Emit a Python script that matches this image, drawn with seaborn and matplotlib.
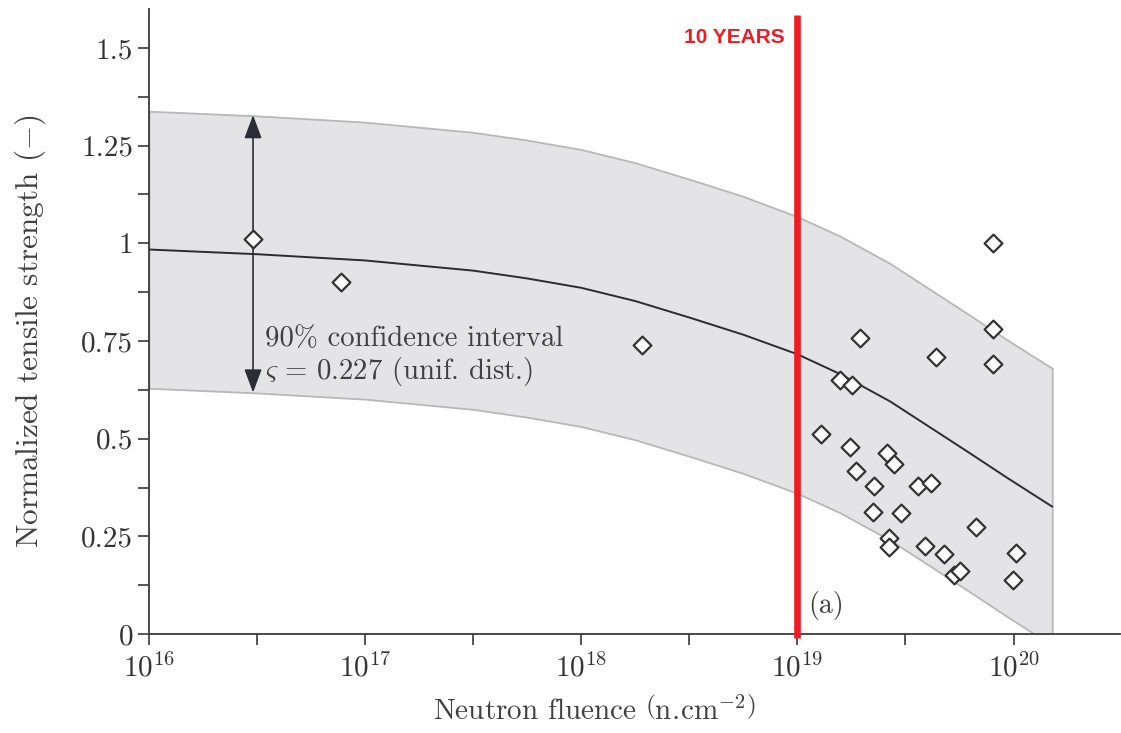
import numpy as np
import matplotlib
matplotlib.use("Agg")
import matplotlib.pyplot as plt
from matplotlib.ticker import FixedLocator, FixedFormatter, LogLocator, NullFormatter
from matplotlib.patches import FancyArrowPatch
import seaborn as sns

# ─── data ───
fluence = [3.03e16, 7.73e16, 1.91e18, 1.28e19, 1.58e19, 1.79e19, 1.95e19, 1.75e19,
           1.87e19, 2.60e19, 2.80e19, 2.25e19, 2.24e19, 3.01e19, 2.65e19, 2.65e19,
           3.63e19, 4.13e19, 4.36e19, 3.88e19, 4.75e19, 5.28e19, 5.68e19, 6.68e19,
           8.04e19, 8.04e19, 8.04e19, 1.03e20, 9.95e19]
strength = [1.011, 0.901, 0.740, 0.513, 0.651, 0.638, 0.758, 0.479,
            0.417, 0.463, 0.434, 0.380, 0.313, 0.310, 0.246, 0.222,
            0.380, 0.386, 0.710, 0.225, 0.204, 0.150, 0.161, 0.273,
            1.000, 0.781, 0.690, 0.208, 0.138]

# mean curve and 90% band
band_fluence = [1e16, 3.16e16, 1e17, 3.16e17, 5.62e17, 1e18, 1.78e18, 3.16e18,
                5.62e18, 1e19, 1.58e19, 2.69e19, 4.27e19, 6.31e19, 9.33e19, 1.51e20]
band_center = [0.984, 0.972, 0.956, 0.930, 0.910, 0.886, 0.852, 0.810,
               0.766, 0.716, 0.665, 0.595, 0.523, 0.462, 0.400, 0.326]
band_upper = [1.338, 1.326, 1.310, 1.284, 1.264, 1.240, 1.206, 1.164,
              1.120, 1.068, 1.018, 0.948, 0.876, 0.815, 0.753, 0.680]
band_lower = [0.629, 0.617, 0.601, 0.575, 0.555, 0.531, 0.497, 0.455,
              0.411, 0.360, 0.310, 0.240, 0.168, 0.107, 0.045, -0.029]

y_ticks = [0, 0.25, 0.5, 0.75, 1, 1.25, 1.5]
y_tick_labels = ["0", "0.25", "0.5", "0.75", "1", "1.25", "1.5"]
y_minor = [0.125, 0.375, 0.625, 0.875, 1.125, 1.375]
x_ticks = [1e16, 1e17, 1e18, 1e19, 1e20]

ten_years = 1e19
ci_fluence = 3.03e16
ci_low, ci_high = 0.618, 1.328

# ─── style ───
sns.set_style("ticks")
plt.rcParams["font.family"] = ["cmr10", "DejaVu Serif"]
plt.rcParams["mathtext.fontset"] = "cm"
plt.rcParams["axes.formatter.use_mathtext"] = True
plt.rcParams["axes.unicode_minus"] = False

AX_COL = "#3a3a3a"
TXT_COL = "#404040"
BAND_FILL = "#e4e4e6"
BAND_EDGE = "#b8b8b8"
RED = "#ed1c24"

fig = plt.figure(figsize=(11.21, 7.33), dpi=100)
ax = fig.add_axes([0.1329, 0.135, 0.866, 0.853])

ax.fill_between(band_fluence, band_lower, band_upper, facecolor=BAND_FILL,
                edgecolor=BAND_EDGE, linewidth=1.3, zorder=1)
sns.lineplot(x=band_fluence, y=band_center, color="#2b2b33", linewidth=1.4, ax=ax, zorder=2)

arrow = FancyArrowPatch((ci_fluence, ci_low), (ci_fluence, ci_high),
                        arrowstyle="<|-|>,head_length=0.72,head_width=0.27",
                        mutation_scale=20, color="#2b2e36", linewidth=1.2,
                        shrinkA=0, shrinkB=0, zorder=3)
ax.add_patch(arrow)

sns.scatterplot(x=fluence, y=strength, marker="D", s=82, facecolor="white",
                edgecolor="#333333", linewidth=1.6, ax=ax, zorder=4)

ax.vlines(ten_years, -0.01, 1.584, color=RED, linewidth=4.8, clip_on=False, zorder=6)
ax.text(8.75e18, 1.527, "10 YEARS", color=RED, fontsize=15, fontweight="bold",
        family="Liberation Sans", ha="right", va="center")

ax.text(3.45e16, 0.708, "90% confidence interval\n$\\varsigma\\,=\\,0.227$ (unif. dist.)",
        fontsize=20.7, color=TXT_COL, ha="left", va="center", linespacing=1.12)
ax.text(1.12e19, 0.074, "(a)", fontsize=20, color=TXT_COL, ha="left", va="center")

ax.set_xscale("log")
ax.set_xlim(1e16, 3.1e20)
ax.set_ylim(0, 1.6)
ax.xaxis.set_major_locator(FixedLocator(x_ticks))
ax.xaxis.set_minor_locator(LogLocator(base=10, subs=(3.1623,)))
ax.xaxis.set_minor_formatter(NullFormatter())
ax.yaxis.set_major_locator(FixedLocator(y_ticks))
ax.yaxis.set_major_formatter(FixedFormatter(y_tick_labels))
ax.yaxis.set_minor_locator(FixedLocator(y_minor))

for side in ["top", "right"]:
    ax.spines[side].set_visible(False)
for side in ["left", "bottom"]:
    ax.spines[side].set_color(AX_COL)
    ax.spines[side].set_linewidth(1.3)
ax.tick_params(which="both", direction="out", length=8, width=1.2, color=AX_COL,
               labelsize=21, labelcolor="#333333")
ax.tick_params(axis="x", which="major", pad=6)

ax.set_ylabel("Normalized tensile strength $(-)$", fontsize=22.5, color=TXT_COL)
ax.set_xlabel("Neutron fluence $\\left(\\mathrm{n.\\!cm}^{-2}\\right)$", fontsize=21, color=TXT_COL)
ax.xaxis.set_label_coords(0.459, -0.1)
ax.yaxis.set_label_coords(-0.104, 0.485)

fig.savefig("out.png", dpi=100)
